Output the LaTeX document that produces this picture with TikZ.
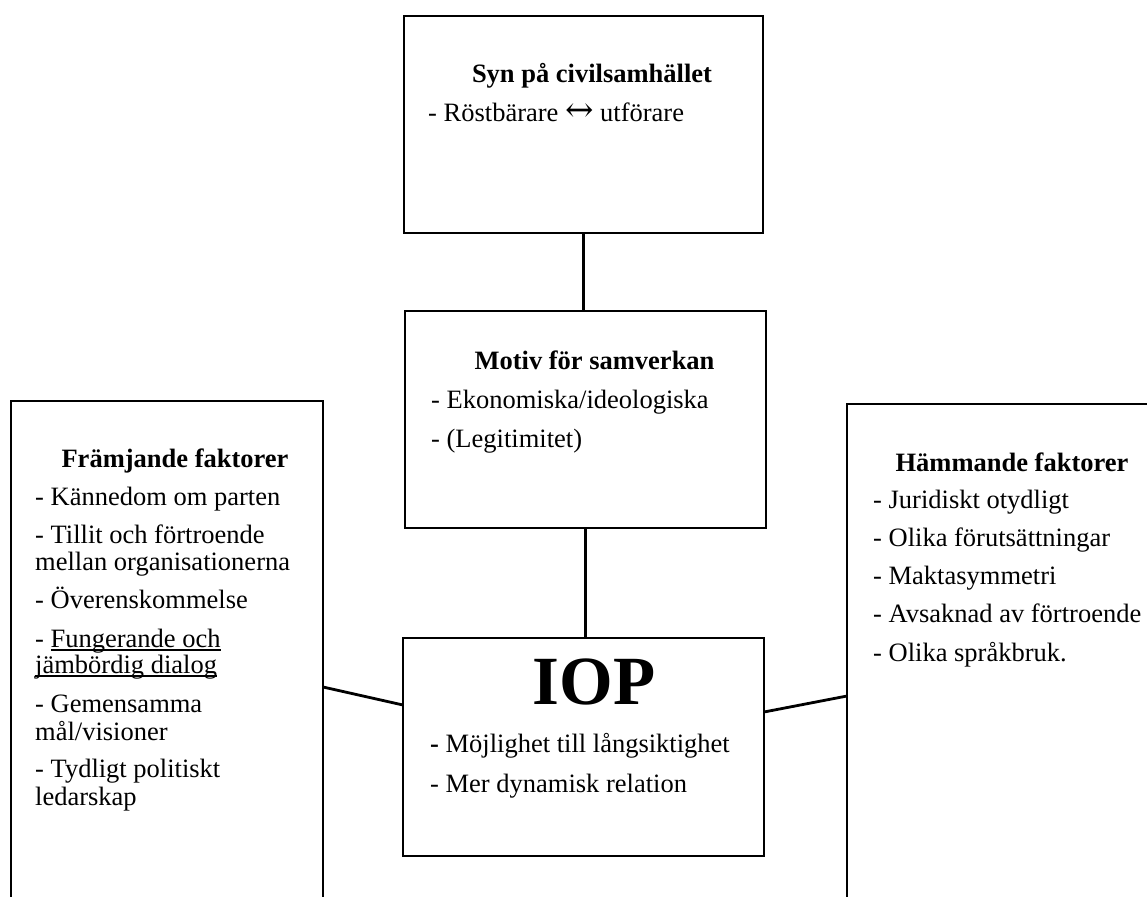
\documentclass[tikz,border=0pt]{standalone}
\usepackage{fontspec}
\setmainfont{Liberation Serif}
\newfontfamily\symfont{DejaVu Serif}
\tikzset{
    box/.style={draw, rectangle, line width=2.8pt, inner sep=0pt, outer sep=0pt, anchor=north west},
    head/.style={font=\fontsize{26.5}{27}\selectfont\bfseries, anchor=base, inner sep=0pt},
    txt/.style={font=\fontsize{26.5}{27}\selectfont, anchor=base west, inner sep=0pt},
    link/.style={line width=2.8pt},
}
\newsavebox{\ulbox}
\newcommand{\undl}[1]{\sbox{\ulbox}{#1}\rlap{\rule[-3.5pt]{\wd\ulbox}{1.3pt}}\usebox{\ulbox}}

\begin{document}
\begin{tikzpicture}[x=1pt,y=-1pt]
\useasboundingbox (0,0) rectangle (1147,896);
\clip (0,0) rectangle (1147,896);

        % the five boxes
        \node[box, minimum width=359pt, minimum height=217pt] (syn) at (404,16) {};
        \node[box, minimum width=361pt, minimum height=217pt] (motiv) at (405,311) {};
        \node[box, minimum width=361pt, minimum height=218pt] (iop) at (403,638) {};
        \node[box, minimum width=312pt, minimum height=520pt] (fram) at (11,401) {};
        \node[box, minimum width=313pt, minimum height=517pt] (hamm) at (847,404) {};


        % connectors
        \draw[link] (syn.south) -- (syn.south |- motiv.north);
        \draw[link] (motiv.south) -- (motiv.south |- iop.north);
        \draw[link] ([yshift=-26pt]fram.east) -- ([yshift=42pt]iop.west);
        \draw[link] ([yshift=35pt]iop.east) -- ([yshift=-33.5pt]hamm.west);


        % Syn paa civilsamhaellet
        \node[head] (synh) at (592,83) {Syn på civilsamhället};
        \node[txt] (synl) at (428,122) {- Röstbärare {\symfont\fontsize{34}{34}\selectfont ↔} utförare};


        % Motiv
        \node[head] (motivh) at (594.5,369) {Motiv för samverkan};
        \foreach \txt/\yy [count=\i] in {{- Ekonomiska/ideologiska}/408, {- (Legitimitet)}/447} {
            \node[txt] (motiv\i) at (431,\yy) {\txt};
        }


        % IOP
        \node[head, font=\fontsize{69}{70}\selectfont\bfseries] (ioph) at (594,704) {IOP};
        \foreach \txt/\yy [count=\i] in {{\textbf{-} Möjlighet till långsiktighet}/752, {- Mer dynamisk relation}/792} {
            \node[txt] (iop\i) at (430,\yy) {\txt};
        }


        % Fraemjande faktorer
        \node[head] (framh) at (175,467) {Främjande faktorer};
        \foreach \txt/\yy [count=\i] in {{- Kännedom om parten}/505, {- Tillit och förtroende}/543,
                {mellan organisationerna}/570, {- Överenskommelse}/608,
                {- \undl{Fungerande och}}/647, {\undl{jämbördig dialog}}/673,
                {- Gemensamma}/712, {mål/visioner}/740,
                {- Tydligt politiskt}/777, {ledarskap}/805} {
            \node[txt] (fram\i) at (35,\yy) {\txt};
        }


        % Haemmande faktorer
        \node[head] (hammh) at (1012,471) {Hämmande faktorer};
        \foreach \txt/\yy [count=\i] in {{- Juridiskt otydligt}/508, {- Olika förutsättningar}/546,
                {- Maktasymmetri}/584, {- Avsaknad av förtroende}/622, {- Olika språkbruk.}/661} {
            \node[txt] (hamm\i) at (873,\yy) {\txt};
        }
\end{tikzpicture}
\end{document}
